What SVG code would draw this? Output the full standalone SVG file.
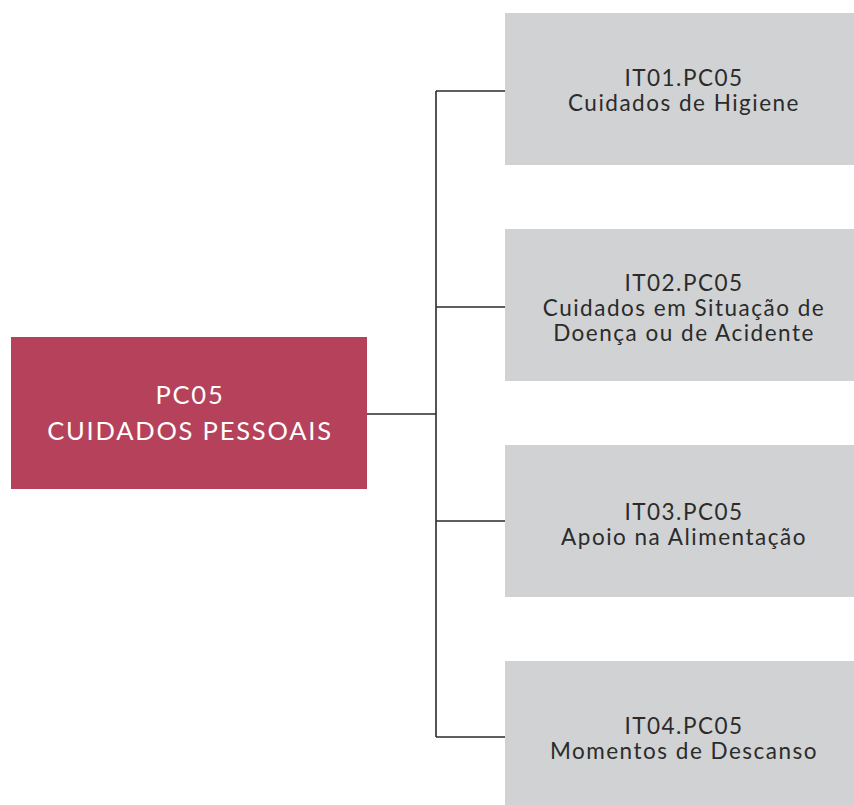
<svg xmlns="http://www.w3.org/2000/svg" width="854" height="805" viewBox="0 0 854 805">
<style>
.gray{fill:#d1d2d4}
.t{font-family:Lato,"Liberation Sans",sans-serif;font-size:22.5px;letter-spacing:1.5px;fill:#2b2b2b;text-anchor:middle}
.m{font-family:Lato,"Liberation Sans",sans-serif;font-size:25.5px;letter-spacing:1.8px;fill:#ffffff;text-anchor:middle}
.c{fill:none;stroke:#2b2b2b;stroke-width:1.6}
</style>
<rect width="854" height="805" fill="#ffffff"/>
<g id="connectors">
<path class="c" d="M367,414 H436 M436,91 V737 M436,91 H505 M436,307 H505 M436,521 H505 M436,737 H505"/>
</g>
<g id="pc05">
<rect x="11" y="337" width="356" height="152" fill="#b5425a"/>
<text class="m" x="190" y="404">PC05</text>
<text class="m" x="190" y="440">CUIDADOS PESSOAIS</text>
</g>
<g id="it01">
<rect class="gray" x="505" y="13" width="349" height="152"/>
<text class="t" x="684" y="86">IT01.PC05</text>
<text class="t" x="684" y="111">Cuidados de Higiene</text>
</g>
<g id="it02">
<rect class="gray" x="505" y="229" width="349" height="152"/>
<text class="t" x="684" y="291">IT02.PC05</text>
<text class="t" x="684" y="316">Cuidados em Situação de</text>
<text class="t" x="684" y="341">Doença ou de Acidente</text>
</g>
<g id="it03">
<rect class="gray" x="505" y="445" width="349" height="152"/>
<text class="t" x="684" y="520">IT03.PC05</text>
<text class="t" x="684" y="545">Apoio na Alimentação</text>
</g>
<g id="it04">
<rect class="gray" x="505" y="661" width="349" height="144"/>
<text class="t" x="684" y="734">IT04.PC05</text>
<text class="t" x="684" y="759">Momentos de Descanso</text>
</g>
</svg>
